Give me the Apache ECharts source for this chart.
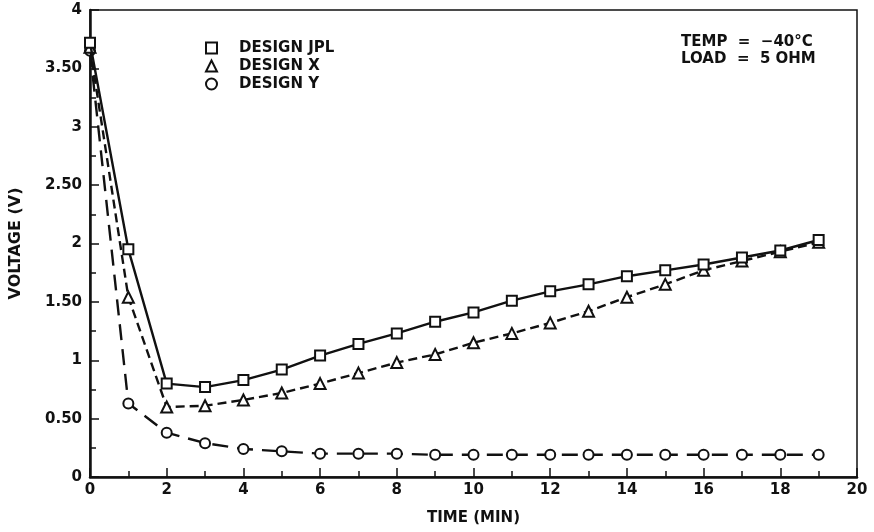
<!DOCTYPE html>
<html>
<head>
<meta charset="utf-8">
<script src="https://cdn.jsdelivr.net/npm/echarts@6/dist/echarts.min.js"></script>
<style>
  html, body { margin: 0; padding: 0; background: #fff; }
  #chart { width: 874px; height: 532px; }
</style>
</head>
<body>
<div id="chart"></div>
<script>
// Elapsed time in minutes
const timeMin = [0, 1, 2, 3, 4, 5, 6, 7, 8, 9, 10, 11, 12, 13, 14, 15, 16, 17, 18, 19];

// Cell voltage (V) for each design
const designJPL = [3.72, 1.95, 0.80, 0.77, 0.83, 0.92, 1.04, 1.14, 1.23, 1.33, 1.41, 1.51, 1.59, 1.65, 1.72, 1.77, 1.82, 1.88, 1.94, 2.03];
const designX   = [3.68, 1.54, 0.60, 0.61, 0.66, 0.72, 0.80, 0.89, 0.98, 1.05, 1.15, 1.23, 1.32, 1.42, 1.54, 1.65, 1.77, 1.85, 1.93, 2.01];
const designY   = [3.65, 0.63, 0.38, 0.29, 0.24, 0.22, 0.20, 0.20, 0.20, 0.19, 0.19, 0.19, 0.19, 0.19, 0.19, 0.19, 0.19, 0.19, 0.19, 0.19];

const seriesNames = ['DESIGN JPL', 'DESIGN X', 'DESIGN Y'];
const yTickLabels = { 0: '0', 0.5: '0.50', 1: '1', 1.5: '1.50', 2: '2', 2.5: '2.50', 3: '3', 3.5: '3.50', 4: '4' };
const noteLines = ['TEMP  =  \u221240\u00b0C', 'LOAD  =  5 OHM'];

const INK = '#111';
const FONT = '"DejaVu Sans", "Liberation Sans", Arial, sans-serif';

function pairs(ys) { return timeMin.map((t, i) => [t, ys[i]]); }

const chart = echarts.init(document.getElementById('chart'), null, { renderer: 'canvas' });

chart.setOption({
  backgroundColor: '#fff',
  animation: false,
  textStyle: { fontFamily: FONT, color: INK },
  grid: {
    left: 88, right: 17, top: 10, bottom: 55,
    show: true, borderColor: INK, borderWidth: 1.5, backgroundColor: 'transparent'
  },
  legend: {
    orient: 'vertical',
    left: 200, top: 35,
    itemGap: 2, itemWidth: 11, itemHeight: 11,
    textStyle: { fontFamily: FONT, fontWeight: 'bold', fontSize: 15, lineHeight: 16, color: INK, padding: [0, 0, 0, 17] },
    data: [
      { name: seriesNames[0], icon: 'emptyRect' },
      { name: seriesNames[1], icon: 'emptyTriangle' },
      { name: seriesNames[2], icon: 'emptyCircle' }
    ]
  },
  xAxis: {
    type: 'value', min: 0, max: 20, interval: 2,
    name: 'TIME (MIN)', nameLocation: 'middle', nameGap: 34,
    nameTextStyle: { fontFamily: FONT, fontWeight: 'bold', fontSize: 15, color: INK },
    axisLine: { lineStyle: { color: INK, width: 2.5 } },
    axisTick: { inside: true, length: 9, lineStyle: { color: INK, width: 1.5 } },
    minorTick: { show: true, splitNumber: 2, length: 6, lineStyle: { color: INK, width: 1.5 } },
    splitLine: { show: false },
    axisLabel: { fontFamily: FONT, fontWeight: 'bold', fontSize: 15, color: INK, margin: 6 }
  },
  yAxis: {
    type: 'value', min: 0, max: 4, interval: 0.5,
    name: 'VOLTAGE (V)', nameLocation: 'middle', nameGap: 66, nameRotate: 90,
    nameTextStyle: { fontFamily: FONT, fontWeight: 'bold', fontSize: 16, color: INK },
    axisLine: { lineStyle: { color: INK, width: 2.5 } },
    axisTick: { inside: true, length: 9, lineStyle: { color: INK, width: 1.5 } },
    minorTick: { show: true, splitNumber: 2, length: 6, lineStyle: { color: INK, width: 1.5 } },
    splitLine: { show: false },
    axisLabel: {
      fontFamily: FONT, fontWeight: 'bold', fontSize: 15, color: INK, margin: 8,
      formatter: v => (yTickLabels[v] !== undefined ? yTickLabels[v] : '')
    }
  },
  graphic: [
    {
      type: 'text', left: 681, top: 34,
      style: {
        text: noteLines.join('\n'), fill: INK,
        font: 'bold 15px ' + FONT, lineHeight: 17
      }
    }
  ],
  series: [
    {
      name: seriesNames[2], type: 'line', data: pairs(designY),
      symbol: 'emptyCircle', symbolSize: 10, z: 2,
      lineStyle: { color: INK, width: 2.4, type: [16, 9] },
      itemStyle: { color: INK, borderColor: INK, borderWidth: 1.6 }
    },
    {
      name: seriesNames[1], type: 'line', data: pairs(designX),
      symbol: 'emptyTriangle', symbolSize: 11, z: 3,
      lineStyle: { color: INK, width: 2.4, type: [9, 5] },
      itemStyle: { color: INK, borderColor: INK, borderWidth: 1.6 }
    },
    {
      name: seriesNames[0], type: 'line', data: pairs(designJPL),
      symbol: 'emptyRect', symbolSize: 10, z: 4,
      lineStyle: { color: INK, width: 2.4, type: 'solid' },
      itemStyle: { color: INK, borderColor: INK, borderWidth: 1.6 }
    }
  ]
});
</script>
</body>
</html>
